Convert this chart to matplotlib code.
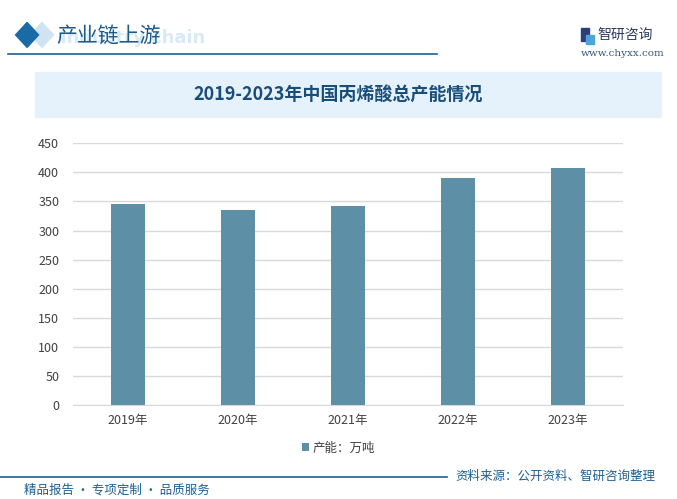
import matplotlib

matplotlib.use("Agg")

import matplotlib.pyplot as plt
from matplotlib.patches import Rectangle, Polygon

plt.rcParams["font.family"] = ["Noto Sans CJK SC", "DejaVu Sans"]
plt.rcParams["axes.unicode_minus"] = False

years = ["2019年", "2020年", "2021年", "2022年", "2023年"]
capacity = [345, 335, 342, 390, 407]
y_ticks = [0, 50, 100, 150, 200, 250, 300, 350, 400, 450]

dark_blue = "#1c5f93"
bar_color = "#5d8fa7"

fig = plt.figure(figsize=(6.77, 4.99), dpi=100, facecolor="white")

# header
fig.text(0.088, 0.924, "Industry chain", fontsize=13, fontweight="bold",
         color="#d9eaf6", ha="left", va="center", family="DejaVu Sans", zorder=0)
fig.patches.append(Polygon([[0.045, 0.93], [0.062, 0.905], [0.079, 0.93], [0.062, 0.955]],
                           closed=True, transform=fig.transFigure, color="#cfe3f2"))
fig.patches.append(Polygon([[0.023, 0.93], [0.040, 0.905], [0.057, 0.93], [0.040, 0.955]],
                           closed=True, transform=fig.transFigure, color="#1a6aa6"))
fig.text(0.083, 0.928, "产业链上游", fontsize=15, color="#1a5a8a", ha="left", va="center",
         zorder=2)
fig.add_artist(plt.Line2D([0.012, 0.645], [0.892, 0.892], transform=fig.transFigure,
                          color=dark_blue, linewidth=1.2))

# logo
fig.patches.append(Rectangle((0.858, 0.918), 0.012, 0.026, transform=fig.transFigure, color="#2b3f7a"))
fig.patches.append(Rectangle((0.865, 0.912), 0.012, 0.018, transform=fig.transFigure, color="#4ea3dc"))
fig.text(0.883, 0.93, "智研咨询", fontsize=10, color="#2b3a5a", ha="left", va="center")
fig.text(0.858, 0.893, "www.chyxx.com", fontsize=7.5, color="#3b5b7a", ha="left", va="center",
         family="DejaVu Serif")

# title box
fig.patches.append(Rectangle((0.052, 0.766), 0.925, 0.09, transform=fig.transFigure,
                             color="#e6f2fb"))
fig.text(0.5, 0.811, "2019-2023年中国丙烯酸总产能情况", fontsize=13, fontweight="bold",
         color="#1a4e7a", ha="center", va="center")

ax = fig.add_axes([0.108, 0.188, 0.812, 0.525])
x = range(len(years))
ax.bar(x, capacity, width=0.31, color=bar_color, zorder=3, label="产能：万吨")
ax.set_xlim(-0.5, len(years) - 0.5)
ax.set_ylim(0, 450)
ax.set_yticks(y_ticks)
ax.set_xticks(list(x))
ax.set_xticklabels(years)
ax.tick_params(axis="both", length=0, labelsize=9, colors="#404040", pad=6)
ax.tick_params(axis="y", pad=10)
ax.grid(axis="y", color="#d9d9d9", linewidth=1, zorder=0)
for s in ["top", "right", "left"]:
    ax.spines[s].set_visible(False)
ax.spines["bottom"].set_color("#d9d9d9")

leg = fig.legend(loc="center", bbox_to_anchor=(0.5, 0.102), frameon=False, fontsize=9,
                 handlelength=0.6, handleheight=0.6, handletextpad=0.3)
for t in leg.get_texts():
    t.set_color("#404040")

# footer
fig.add_artist(plt.Line2D([0.0, 0.66], [0.045, 0.045], transform=fig.transFigure,
                          color=dark_blue, linewidth=1.2))
fig.text(0.672, 0.045, "资料来源：公开资料、智研咨询整理", fontsize=9, color=dark_blue,
         ha="left", va="center")
fig.text(0.036, 0.018, "精品报告 · 专项定制 · 品质服务", fontsize=9, color=dark_blue,
         ha="left", va="center")

fig.savefig("out.png", dpi=100, facecolor="white")
plt.close(fig)
